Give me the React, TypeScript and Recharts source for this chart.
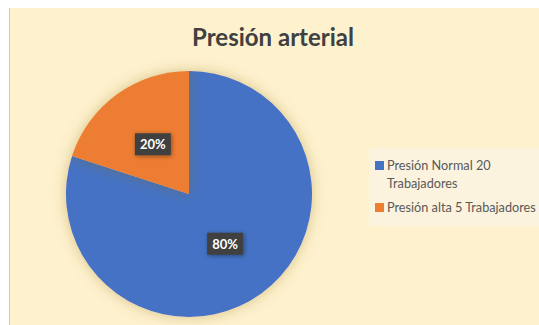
import React from 'react';
import { PieChart, Pie, Cell, Legend } from 'recharts';

const categories = ['Presión Normal 20 Trabajadores', 'Presión alta 5 Trabajadores'];
const workers = [20, 5];
const colors = ['#4472C4', '#ED7D31'];

const data = categories.map((name, i) => ({ name, value: workers[i] }));

const RADIAN = Math.PI / 180;

const renderLabel = (props: any) => {
  const { cx, cy, midAngle, outerRadius, percent } = props;
  const r = outerRadius * 0.5;
  const x = cx + r * Math.cos(-midAngle * RADIAN);
  const y = cy + r * Math.sin(-midAngle * RADIAN);
  return (
    <g>
      <rect x={x - 18} y={y - 11} width={36} height={22} fill="#404040" filter="url(#lblShadow)" />
      <text x={x} y={y} fill="#fff" fontSize={13} fontWeight={700} textAnchor="middle" dominantBaseline="central" fontFamily="Lato">
        {`${Math.round(percent * 100)}%`}
      </text>
    </g>
  );
};

const renderLegend = () => (
  <div style={{ background: '#FBF3DE', width: 180, height: 78, padding: '8px 0 0 6px', boxSizing: 'border-box', fontFamily: 'Lato', fontSize: 12.7, color: '#595959' }}>
    {data.map((d, i) => (
      <div key={d.name} style={{ display: 'flex', alignItems: 'flex-start', lineHeight: '18px', marginBottom: 6, width: 160 }}>
        <span style={{ display: 'inline-block', width: 9, height: 9, background: colors[i], marginTop: 5, marginRight: 3, flex: 'none' }} />
        <span style={{ whiteSpace: i === 1 ? 'nowrap' : 'normal' }}>{d.name}</span>
      </div>
    ))}
  </div>
);

export default function App() {
  return (
    <div style={{ position: 'fixed', left: 9, top: 8, width: 540, height: 320, background: '#FEF1CE', borderLeft: '1px solid #C9C9C9' }}>
      <div style={{ position: 'absolute', left: 0, top: 14, width: 526, textAlign: 'center', fontFamily: 'Lato', fontWeight: 700, fontSize: 24, color: '#404040' }}>
        Presión arterial
      </div>
      <PieChart width={540} height={320} margin={{ top: 0, right: 0, bottom: 0, left: 0 }} style={{ position: 'absolute', left: 0, top: 0 }}>
        <defs>
          <filter id="pieShadow" x="-20%" y="-20%" width="140%" height="140%">
            <feDropShadow dx="0" dy="0" stdDeviation="7" floodColor="#8a6a20" floodOpacity="0.35" />
          </filter>
          <filter id="lblShadow" x="-30%" y="-30%" width="160%" height="160%">
            <feDropShadow dx="1" dy="1" stdDeviation="2" floodColor="#000" floodOpacity="0.4" />
          </filter>
        </defs>
        <Pie
          data={data}
          dataKey="value"
          nameKey="name"
          cx={179}
          cy={186}
          outerRadius={123}
          startAngle={90}
          endAngle={-270}
          stroke="none"
          label={renderLabel}
          labelLine={false}
          isAnimationActive={false}
          style={{ filter: 'url(#pieShadow)' }}
        >
          {data.map((d, i) => (
            <Cell key={d.name} fill={colors[i]} />
          ))}
        </Pie>
        <Legend content={renderLegend} layout="vertical" wrapperStyle={{ left: 359, top: 140, width: 180 }} />
      </PieChart>
    </div>
  );
}
